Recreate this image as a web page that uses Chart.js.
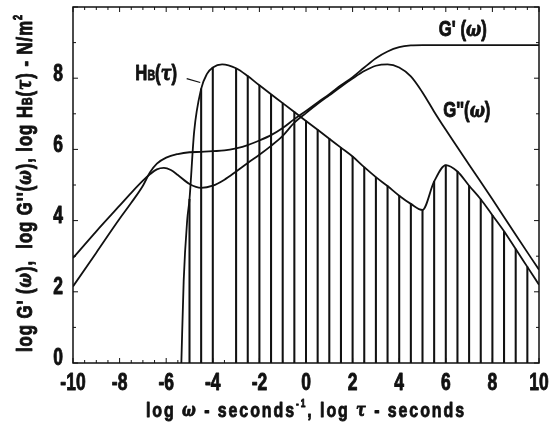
<!DOCTYPE html>
<html>
<head>
<meta charset="utf-8">
<script src="https://cdn.jsdelivr.net/npm/chart.js@4.4.0/dist/chart.umd.min.js"></script>
<style>
  html, body { margin: 0; padding: 0; background: #fff; }
</style>
</head>
<body>
<canvas id="chart" width="553" height="428"></canvas>
<script>
// log G'(w) - storage modulus
const storageX = [-10, -9, -8, -7.5, -7, -6.7, -6.4, -6, -5.5, -5, -4.5, -4, -3.5, -3, -2.5, -2, -1.5, -1, -0.5, 0, 0.5, 1, 1.5, 2, 2.5, 3, 3.5, 4, 4.5, 5, 10];
const storageY = [2.15, 3.1, 4.05, 4.5, 4.98, 5.35, 5.6, 5.77, 5.87, 5.92, 5.93, 5.95, 5.97, 6.03, 6.12, 6.25, 6.4, 6.6, 6.85, 7.08, 7.32, 7.55, 7.8, 8.03, 8.3, 8.56, 8.75, 8.87, 8.92, 8.93, 8.93];

// log G''(w) - loss modulus
const lossX = [-10, -9, -8, -7.5, -7, -6.7, -6.4, -6.1, -5.8, -5.5, -5, -4.5, -4, -3.5, -3, -2.5, -2, -1.5, -1, -0.5, 0, 0.5, 1, 1.5, 2, 2.5, 3, 3.5, 4, 4.5, 5, 5.5, 6, 7, 8, 9, 10];
const lossY = [2.95, 3.7, 4.42, 4.78, 5.12, 5.3, 5.44, 5.48, 5.42, 5.28, 5.03, 4.92, 4.98, 5.15, 5.38, 5.62, 5.85, 6.1, 6.38, 6.75, 7.02, 7.28, 7.52, 7.76, 7.99, 8.2, 8.35, 8.39, 8.3, 8.05, 7.6, 7.06, 6.55, 5.57, 4.6, 3.6, 2.62];

// log H_B(tau) - relaxation spectrum
const spectrumX = [-5.35, -5.25, -5.1, -5, -4.8, -4.5, -4.25, -4, -3.6, -3, -2.5, -2, -1.5, -1, -0.5, 0, 0.5, 1, 1.5, 2, 2.5, 3, 3.5, 4, 4.5, 5, 5.5, 6, 6.5, 7, 7.5, 8, 8.5, 9, 9.5, 10];
const spectrumY = [0, 2.3, 4.0, 4.6, 6.5, 7.7, 8.12, 8.3, 8.39, 8.28, 8.06, 7.8, 7.55, 7.3, 7.05, 6.8, 6.55, 6.3, 6.05, 5.8, 5.5, 5.22, 4.97, 4.7, 4.47, 4.3, 5.1, 5.56, 5.38, 4.98, 4.6, 4.15, 3.7, 3.2, 2.7, 2.2];

const xTickLabels = [-10, -8, -6, -4, -2, 0, 2, 4, 6, 8, 10];
const yTickLabels = [0, 2, 4, 6, 8];

const FONT = "'Liberation Sans', Arial, sans-serif";
const GREEK = "'DejaVu Serif', serif";
const NARROW = 0.76;   // the original lettering is a heavy condensed face
const INK = '#111';

const toPoints = (xs, ys) => xs.map((x, i) => ({ x: x, y: ys[i] }));

// hatching: one vertical line every half decade under the spectrum
const hatch = toPoints(spectrumX, spectrumY).filter(p => Number.isInteger(p.x * 2) && p.x < 10);

function runFont(r) {
    return (r.italic ? 'italic ' : '') + 'bold ' + r.size + 'px ' + (r.family || FONT);
}

function measureRuns(ctx, runs) {
    let total = 0, chars = 0;
    runs.forEach(r => {
        ctx.font = runFont(r);
        total += ctx.measureText(r.t).width;
        chars += r.t.length;
    });
    return { total, chars };
}

// draws one line of condensed text made of runs (sub/superscripts, italics),
// centred on x; if width is given the letter spacing is opened up to fill it
function drawRuns(ctx, runs, x, y, width, align) {
    ctx.save();
    ctx.translate(x, y);
    ctx.scale(NARROW, 1);
    let spacing = 0;
    if (width) {
        const m = measureRuns(ctx, runs);
        spacing = Math.max(0, (width / NARROW - m.total) / m.chars);
    }
    ctx.letterSpacing = spacing + 'px';
    let total = 0;
    runs.forEach(r => {
        ctx.font = runFont(r);
        r.w = ctx.measureText(r.t).width;
        total += r.w;
    });
    let cx = align === 'right' ? -total : -total / 2;
    ctx.textAlign = 'left';
    ctx.textBaseline = 'middle';
    ctx.lineWidth = 0.9;
    ctx.lineJoin = 'round';
    runs.forEach(r => {
        ctx.font = runFont(r);
        ctx.fillText(r.t, cx, r.dy || 0);
        ctx.strokeText(r.t, cx, r.dy || 0);
        cx += r.w;
    });
    ctx.restore();
}

const framePlugin = {
    id: 'frame',
    afterDatasetsDraw(chart) {
        const { ctx, chartArea: a, scales: { x, y } } = chart;
        ctx.save();
        ctx.strokeStyle = INK;
        ctx.fillStyle = INK;
        ctx.lineWidth = 1.5;
        ctx.strokeRect(a.left, a.top, a.right - a.left, a.bottom - a.top);

        // inward tick marks on all four sides
        ctx.lineWidth = 1;
        ctx.beginPath();
        for (let v = -10; v <= 10; v += 0.5) {
            const px = x.getPixelForValue(v);
            const len = v % 2 === 0 ? 5 : 3;
            ctx.moveTo(px, a.bottom); ctx.lineTo(px, a.bottom - len);
            ctx.moveTo(px, a.top); ctx.lineTo(px, a.top + len);
        }
        for (let v = 0; v <= 10; v += 1) {
            const py = y.getPixelForValue(v);
            const len = v % 2 === 0 ? 5 : 3;
            ctx.moveTo(a.left, py); ctx.lineTo(a.left + len, py);
            ctx.moveTo(a.right, py); ctx.lineTo(a.right - len, py);
        }
        ctx.stroke();

        // tick labels
        xTickLabels.forEach(v => {
            drawRuns(ctx, [{ t: String(v), size: 23 }], x.getPixelForValue(v), a.bottom + 21);
        });
        yTickLabels.forEach(v => {
            drawRuns(ctx, [{ t: String(v), size: 23 }], a.left - 10, y.getPixelForValue(v) - 4, 0, 'right');
        });

        // curve labels
        drawRuns(ctx, [
            { t: "G'", size: 22 }, { t: ' (', size: 22 }, { t: 'ω', size: 21, italic: true, family: GREEK }, { t: ')', size: 22 }
        ], x.getPixelForValue(6.73), y.getPixelForValue(9.35));
        drawRuns(ctx, [
            { t: "G''(", size: 22 }, { t: 'ω', size: 21, italic: true, family: GREEK }, { t: ')', size: 22 }
        ], x.getPixelForValue(6.9), y.getPixelForValue(7.07));
        drawRuns(ctx, [
            { t: 'H', size: 22 }, { t: 'B', size: 14, dy: 2 }, { t: '(', size: 22 }, { t: 'τ', size: 21, italic: true, family: GREEK }, { t: ')', size: 22 }
        ], x.getPixelForValue(-6.43), y.getPixelForValue(8.11));

        // leader from the H_B label to its curve
        ctx.lineWidth = 1.2;
        ctx.beginPath();
        ctx.moveTo(x.getPixelForValue(-5.12), y.getPixelForValue(7.99));
        ctx.lineTo(x.getPixelForValue(-4.54), y.getPixelForValue(7.88));
        ctx.stroke();

        // axis titles
        drawRuns(ctx, [
            { t: 'log ', size: 21 }, { t: 'ω', size: 19, italic: true, family: GREEK },
            { t: ' - seconds', size: 21 }, { t: '-1', size: 11, dy: -7 },
            { t: ', log ', size: 21 }, { t: 'τ', size: 19, italic: true, family: GREEK },
            { t: ' - seconds', size: 21 }
        ], (a.left + a.right) / 2, 411, 320);

        ctx.translate(26, (a.top + a.bottom) / 2 - 2);
        ctx.rotate(-Math.PI / 2);
        drawRuns(ctx, [
            { t: "log G' (", size: 22 }, { t: 'ω', size: 20, italic: true, family: GREEK },
            { t: "),  log G''(", size: 22 }, { t: 'ω', size: 20, italic: true, family: GREEK },
            { t: '), log H', size: 22 }, { t: 'B', size: 14, dy: 2 }, { t: '(', size: 22 },
            { t: 'τ', size: 20, italic: true, family: GREEK },
            { t: ') - N/m', size: 22 }, { t: '2', size: 12, dy: -7 }
        ], 0, 0, 338);
        ctx.restore();
    }
};

const lineStyle = {
    type: 'line',
    borderColor: INK,
    borderWidth: 1.8,
    pointRadius: 0,
    fill: false,
    cubicInterpolationMode: 'monotone',
    order: 1
};

new Chart(document.getElementById('chart'), {
    type: 'line',
    data: {
        datasets: [
            Object.assign({ label: "G'", data: toPoints(storageX, storageY) }, lineStyle),
            Object.assign({ label: "G''", data: toPoints(lossX, lossY) }, lineStyle),
            Object.assign({ label: 'HB', data: toPoints(spectrumX, spectrumY) }, lineStyle),
            {
                type: 'bar',
                label: 'HB hatch',
                data: hatch,
                backgroundColor: INK,
                barThickness: 1.4,
                order: 2
            }
        ]
    },
    options: {
        responsive: false,
        animation: false,
        events: [],
        layout: { padding: { top: 7, right: 14, left: 0, bottom: 0 } },
        plugins: { legend: { display: false }, tooltip: { enabled: false } },
        scales: {
            x: {
                type: 'linear',
                min: -10,
                max: 10,
                offset: false,
                grid: { display: false, drawTicks: false },
                border: { display: false },
                ticks: { display: false },
                afterFit: s => { s.height = 65; s.paddingLeft = 0; s.paddingRight = 0; }
            },
            y: {
                type: 'linear',
                min: 0,
                max: 10,
                grid: { display: false, drawTicks: false },
                border: { display: false },
                ticks: { display: false },
                afterFit: s => { s.width = 73; s.paddingTop = 0; s.paddingBottom = 0; }
            }
        }
    },
    plugins: [framePlugin]
});
</script>
</body>
</html>
